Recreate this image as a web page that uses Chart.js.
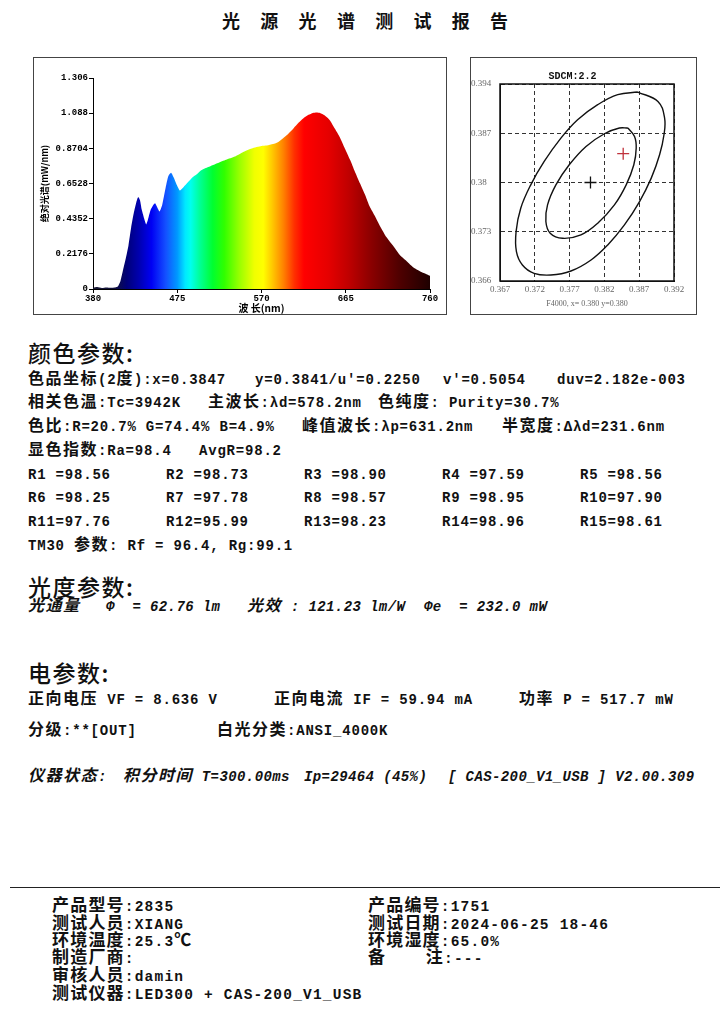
<!DOCTYPE html>
<html>
<head>
<meta charset="utf-8">
<script src="https://cdn.jsdelivr.net/npm/chart.js@4.4.1/dist/chart.umd.min.js"></script>
<style>
html, body { margin: 0; padding: 0; background: #fff; }
#page { position: relative; width: 720px; height: 1011px; overflow: hidden; background: #fff; }
.t { position: absolute; white-space: pre; line-height: 18px; height: 18px; font: bold 14px "Liberation Mono", monospace; letter-spacing: 0.8px; color: #111; }
.t .c { font-family: "Noto Sans CJK SC"; font-size: 16px; letter-spacing: 1.5px; line-height: 0; }
.f { font-size: 14.5px; letter-spacing: 1.2px; }
.f .c { font-size: 17px; letter-spacing: 1.2px; }
.it { font-style: italic; letter-spacing: 0.4px; }
.h { position: absolute; white-space: pre; font: 500 23px "Noto Sans CJK SC"; letter-spacing: 1.5px; line-height: 26px; color: #111; }
.box { position: absolute; border: 1px solid #444; box-sizing: border-box; }
.box canvas { position: absolute; left: 0; top: 0; }
#title { position: absolute; left: 222px; top: 8px; font: bold 18px "Noto Sans CJK SC"; line-height: 24px; letter-spacing: 20.3px; color: #111; white-space: pre; }
#rule { position: absolute; left: 10px; top: 887px; width: 710px; height: 0; border-top: 1.5px solid #222; }
</style>
</head>
<body>
<div id="page">
  <div id="title">光源光谱测试报告</div>

  <div class="box" style="left:33px;top:57px;width:414px;height:258px;">
    <canvas id="spectrum" width="412" height="256"></canvas>
  </div>
  <div class="box" style="left:470px;top:57px;width:227px;height:258px;">
    <canvas id="sdcm" width="225" height="256"></canvas>
  </div>

  <div class="h" style="left:28px;top:339px;">颜色参数:</div>
  <div class="h" style="left:28px;top:573px;">光度参数:</div>
  <div class="h" style="left:28px;top:659px;">电参数:</div>
  <div id="rule"></div>
</div>

<script>
// spectrum
const wavelengths = [380, 385, 390, 395, 400, 405, 408, 411, 414, 417, 420, 423, 426, 429, 431, 433,
  435, 438, 440, 442, 445, 448, 450, 452, 455, 458, 462, 465, 468, 471, 474, 478, 482, 487, 492, 497,
  502, 510, 521, 530, 540, 550, 559, 570, 576, 583, 589, 594, 600, 606, 612, 617, 623, 628, 632, 636,
  641, 647, 653, 658, 664, 670, 675, 681, 687, 692, 698, 704, 711, 719, 726, 734, 741, 749, 755, 760];
const irradiance = [0.008, 0.012, 0.006, 0.010, 0.008, 0.010, 0.016, 0.05, 0.12, 0.19, 0.27, 0.38, 0.47, 0.54, 0.57, 0.55,
  0.49, 0.43, 0.40, 0.43, 0.49, 0.52, 0.53, 0.51, 0.48, 0.52, 0.63, 0.70, 0.72, 0.69, 0.65, 0.61, 0.63, 0.66, 0.69, 0.71,
  0.735, 0.755, 0.78, 0.80, 0.82, 0.85, 0.87, 0.885, 0.888, 0.897, 0.91, 0.932, 0.96, 0.994, 1.03, 1.056, 1.078, 1.09, 1.093, 1.09,
  1.075, 1.045, 0.99, 0.942, 0.87, 0.798, 0.73, 0.654, 0.58, 0.51, 0.45, 0.386, 0.32, 0.263, 0.21, 0.17, 0.135, 0.109, 0.095, 0.082];
const specXTicks = [380, 475, 570, 665, 760];
const specYTicks = [0, 0.2176, 0.4352, 0.6528, 0.8704, 1.088, 1.306];

// SDCM ellipses and points
const outerEllipse = [[0.38681, 0.39286], [0.38969, 0.39153], [0.39065, 0.38916], [0.39056, 0.38679], [0.38993, 0.38394],
  [0.38873, 0.38062], [0.38705, 0.37729], [0.38488, 0.37397], [0.38248, 0.37113], [0.38008, 0.36899], [0.37719, 0.36742],
  [0.37431, 0.36685], [0.37190, 0.36709], [0.37022, 0.36828], [0.36936, 0.37018], [0.36931, 0.37302], [0.36998, 0.37635],
  [0.37142, 0.37967], [0.37335, 0.38299], [0.37575, 0.38631], [0.37815, 0.38892], [0.38104, 0.39106], [0.38392, 0.39248],
  [0.38681, 0.39286]];
const innerEllipse = [[0.38537, 0.38774], [0.38633, 0.38655], [0.38657, 0.38489], [0.38623, 0.38252], [0.38513, 0.37967],
  [0.38344, 0.37682], [0.38104, 0.37421], [0.37863, 0.37255], [0.37599, 0.37207], [0.37421, 0.37279], [0.37359, 0.37445],
  [0.37383, 0.37682], [0.37503, 0.37967], [0.37695, 0.38252], [0.37936, 0.38513], [0.38200, 0.38693], [0.38416, 0.38774],
  [0.38537, 0.38774]];
const targetPoint = [0.380, 0.380];
const measuredPoint = [0.3847, 0.3841];
const sdcmXTicks = [0.367, 0.372, 0.377, 0.382, 0.387, 0.392];
const sdcmYTicks = [0.366, 0.373, 0.38, 0.387, 0.394];

// report text: [left, centre y, text, class]
const textRows = [
  [28, 379, '色品坐标(2度):x=0.3847'], [255, 379, "y=0.3841/u'=0.2250"], [443, 379, "v'=0.5054"], [557, 379, 'duv=2.182e-003'],
  [28, 402, '相关色温:Tc=3942K'], [208, 402, '主波长:λd=578.2nm'], [378, 402, '色纯度: Purity=30.7%'],
  [28, 426, '色比:R=20.7% G=74.4% B=4.9%'], [302, 426, '峰值波长:λp=631.2nm'], [502, 426, '半宽度:Δλd=231.6nm'],
  [28, 450, '显色指数:Ra=98.4'], [199, 450, 'AvgR=98.2'],
  [28, 474, 'R1 =98.56'], [166, 474, 'R2 =98.73'], [304, 474, 'R3 =98.90'], [442, 474, 'R4 =97.59'], [580, 474, 'R5 =98.56'],
  [28, 497, 'R6 =98.25'], [166, 497, 'R7 =97.78'], [304, 497, 'R8 =98.57'], [442, 497, 'R9 =98.95'], [580, 497, 'R10=97.90'],
  [28, 521, 'R11=97.76'], [166, 521, 'R12=95.99'], [304, 521, 'R13=98.23'], [442, 521, 'R14=98.96'], [580, 521, 'R15=98.61'],
  [28, 545, 'TM30 参数: Rf = 96.4, Rg:99.1'],
  [28, 606, '光通量', 'it'], [106, 606, 'Φ  = 62.76 lm', 'it'], [247, 606, '光效 : 121.23 lm/W', 'it'], [424, 606, 'Φe  = 232.0 mW', 'it'],
  [28, 699, '正向电压 VF = 8.636 V'], [274, 699, '正向电流 IF = 59.94 mA'], [519, 699, '功率 P = 517.7 mW'],
  [28, 730, '分级:**[OUT]'], [217, 730, '白光分类:ANSI_4000K'],
  [28, 776, '仪器状态:', 'it'], [123, 776, '积分时间 T=300.00ms', 'it'], [304, 776, 'Ip=29464 (45%)', 'it'],
  [448, 776, '[ CAS-200_V1_USB ] V2.00.309', 'it'],
  [52, 906, '产品型号:2835', 'f'], [368, 906, '产品编号:1751', 'f'],
  [52, 924, '测试人员:XIANG', 'f'], [368, 924, '测试日期:2024-06-25 18-46', 'f'],
  [52, 941, '环境温度:25.3℃', 'f'], [368, 941, '环境湿度:65.0%', 'f'],
  [52, 958, '制造厂商:', 'f'], [368, 958, '备    注:---', 'f'],
  [52, 976, '审核人员:damin', 'f'],
  [52, 994, '测试仪器:LED300 + CAS-200_V1_USB', 'f']
];

const page = document.getElementById('page');
textRows.forEach(([x, y, s, cls]) => {
  const d = document.createElement('div');
  d.className = 't' + (cls ? ' ' + cls : '');
  d.style.left = x + 'px';
  d.style.top = (y - 7) + 'px';
  d.innerHTML = s.replace(/([^\x00-\x7f\u0394\u03bb\u03a6]+)/g, '<span class="c">$1</span>');
  page.appendChild(d);
});

// colour of the fill across the visible range
const rainbow = [[380, '#1a1a34'], [405, '#101040'], [418, '#000078'], [432, '#0000b0'], [446, '#0000f4'],
  [462, '#1450ff'], [475, '#0098ff'], [484, '#00e8ff'], [490, '#00ffee'], [500, '#00ff9a'], [515, '#00ff30'],
  [528, '#30ff00'], [545, '#98ff00'], [562, '#f0ff00'], [572, '#ffff00'], [583, '#ffc400'], [595, '#ff8000'],
  [607, '#ff3000'], [618, '#ff0000'], [645, '#e60000'], [668, '#c00000'], [695, '#880000'], [725, '#500000'], [760, '#1e0000']];

function rainbowFill(context) {
  const chart = context.chart;
  if (!chart.chartArea) return null;
  const x = chart.scales.x;
  const g = chart.ctx.createLinearGradient(x.getPixelForValue(380), 0, x.getPixelForValue(760), 0);
  rainbow.forEach(([nm, c]) => g.addColorStop((nm - 380) / 380, c));
  return g;
}

const monoBold = { family: 'Liberation Mono', size: 9, weight: 'bold' };

new Chart(document.getElementById('spectrum'), {
  type: 'line',
  data: {
    datasets: [{
      data: wavelengths.map((w, i) => ({ x: w, y: irradiance[i] })),
      fill: 'origin',
      backgroundColor: rainbowFill,
      borderColor: 'rgba(0,0,0,0)',
      borderWidth: 0,
      pointRadius: 0,
      tension: 0.2
    }]
  },
  options: {
    responsive: false,
    animation: false,
    layout: { padding: { top: 20, right: 16, left: 0, bottom: 0 } },
    plugins: { legend: { display: false }, tooltip: { enabled: false } },
    scales: {
      x: {
        type: 'linear', min: 380, max: 760,
        afterBuildTicks: s => { s.ticks = specXTicks.map(v => ({ value: v })); },
        afterFit: s => { s.height = 25; },
        grid: { drawOnChartArea: false, tickLength: 4, color: '#000' },
        border: { color: '#000' },
        ticks: { font: monoBold, color: '#000', padding: 0, maxRotation: 0 },
        title: { display: true, text: '波 长(nm)', color: '#000', padding: 0,
          font: { family: 'Noto Sans CJK SC', size: 10, weight: 'bold' } }
      },
      y: {
        min: 0, max: 1.306,
        afterBuildTicks: s => { s.ticks = specYTicks.map(v => ({ value: v })); },
        afterFit: s => { s.width = 59; },
        grid: { drawOnChartArea: false, tickLength: 4, color: '#000' },
        border: { color: '#000' },
        ticks: { font: monoBold, color: '#000', padding: 1, callback: v => String(v) },
        title: { display: true, text: '绝对光谱(mW/nm)', color: '#000', padding: { top: 5, bottom: 0 },
          font: { family: 'Noto Sans CJK SC', size: 9, weight: 'bold' } }
      }
    }
  }
});

const plotFrame = {
  id: 'plotFrame',
  afterDraw(chart) {
    const { ctx, chartArea: a } = chart;
    ctx.save();
    ctx.strokeStyle = '#111';
    ctx.lineWidth = 1.5;
    ctx.strokeRect(a.left, a.top, a.width, a.height);
    ctx.restore();
  }
};

const serifTick = { family: 'Liberation Serif', size: 9 };
const toPts = arr => arr.map(([x, y]) => ({ x, y }));

new Chart(document.getElementById('sdcm'), {
  type: 'scatter',
  data: {
    datasets: [
      { data: toPts(outerEllipse), showLine: true, borderColor: '#111', borderWidth: 1.4, pointRadius: 0, tension: 0.4 },
      { data: toPts(innerEllipse), showLine: true, borderColor: '#111', borderWidth: 1.4, pointRadius: 0, tension: 0.4 },
      { data: toPts([targetPoint]), pointStyle: 'cross', pointRadius: 6, borderColor: '#111', borderWidth: 1.3 },
      { data: toPts([measuredPoint]), pointStyle: 'cross', pointRadius: 6, borderColor: '#c0323c', borderWidth: 1.3 }
    ]
  },
  plugins: [plotFrame],
  options: {
    responsive: false,
    animation: false,
    layout: { padding: { top: 0, right: 22, left: 0, bottom: 0 } },
    plugins: {
      legend: { display: false },
      tooltip: { enabled: false },
      title: { display: true, text: 'SDCM:2.2', color: '#111', padding: { top: 12, bottom: 2 },
        font: { family: 'Liberation Mono', size: 10, weight: 'bold' } }
    },
    scales: {
      x: {
        type: 'linear', min: 0.367, max: 0.392,
        afterBuildTicks: s => { s.ticks = sdcmXTicks.map(v => ({ value: v })); },
        afterFit: s => { s.height = 33; },
        grid: { color: '#333', drawTicks: false },
        border: { color: '#111', dash: [4, 3] },
        ticks: { font: serifTick, color: '#666', padding: 3, maxRotation: 0, callback: v => String(v) },
        title: { display: true, text: 'F4000, x= 0.380 y=0.380', color: '#666', padding: { top: 0, bottom: 5 },
          font: { family: 'Liberation Serif', size: 8 } }
      },
      y: {
        min: 0.366, max: 0.394,
        afterBuildTicks: s => { s.ticks = sdcmYTicks.map(v => ({ value: v })); },
        afterFit: s => { s.width = 29; },
        grid: { color: '#333', drawTicks: false },
        border: { color: '#111', dash: [4, 3] },
        ticks: { font: serifTick, color: '#666', padding: 3, crossAlign: 'far', callback: v => String(v) }
      }
    }
  }
});
</script>
</body>
</html>
